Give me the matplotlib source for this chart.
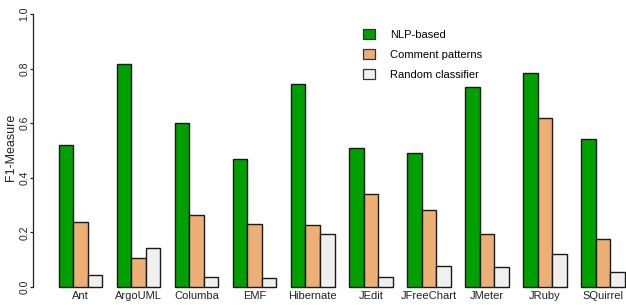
import numpy as np
import matplotlib.pyplot as plt
from matplotlib.patches import Patch

plt.rcParams['font.family'] = ['Liberation Sans', 'DejaVu Sans']

projects = ['Ant', 'ArgoUML', 'Columba', 'EMF', 'Hibernate',
            'JEdit', 'JFreeChart', 'JMeter', 'JRuby', 'SQuirrel']
nlp_based = [0.519, 0.816, 0.602, 0.470, 0.745, 0.508, 0.492, 0.731, 0.783, 0.541]
comment_patterns = [0.237, 0.107, 0.265, 0.232, 0.227, 0.342, 0.283, 0.194, 0.620, 0.175]
random_clf = [0.044, 0.144, 0.038, 0.034, 0.194, 0.037, 0.078, 0.072, 0.122, 0.055]

series = [nlp_based, comment_patterns, random_clf]
names = ['NLP-based', 'Comment patterns', 'Random classifier']
colors = ['#00a000', '#ecb076', '#f0f0f0']

fig = plt.figure(figsize=(6.26, 3.05), dpi=100)
ax = fig.add_axes([33/626, 18/305, 593/626, 273/305])

# R-style barplot: bars width 1, one unit gap between groups
group_start = 1 + 4*np.arange(len(projects))
for k, vals in enumerate(series):
    ax.bar(group_start + k + 0.5, vals, width=1.0, color=colors[k],
           edgecolor='#1a1a1a', linewidth=1.0, clip_on=False)

ax.set_xlim(-0.79, 40.1)
ax.set_ylim(0, 1)

for s in ['top', 'right', 'bottom']:
    ax.spines[s].set_visible(False)
ax.spines['left'].set_bounds(0, 1)
ax.spines['left'].set_linewidth(0.9)
ax.spines['left'].set_color('#222222')

ax.set_yticks([0, 0.2, 0.4, 0.6, 0.8, 1.0])
ax.tick_params(axis='y', length=2.5, width=0.9, pad=0, colors='#222222')
ax.set_yticklabels(['0.0', '0.2', '0.4', '0.6', '0.8', '1.0'],
                   rotation=90, va='center', ha='right', fontsize=7.5)

ax.set_xticks(group_start + 1.5)
ax.set_xticklabels(projects, fontsize=8)
ax.tick_params(axis='x', length=0, pad=3, colors='#222222')

fig.text(17.3/626, 1 - 147/305, 'F1-Measure', rotation=90, ha='right',
         va='center', fontsize=9, color='#222222')

handles = [Patch(facecolor=c, edgecolor='#333333', linewidth=0.9) for c in colors]
fig.legend(handles, names, loc='upper left',
           bbox_to_anchor=(363/626, 1 - 29/305), frameon=False, fontsize=8,
           handlelength=1.1, handleheight=1.0, handletextpad=1.3,
           labelspacing=0.82, borderpad=0, borderaxespad=0)

fig.savefig('out.png', dpi=100)
